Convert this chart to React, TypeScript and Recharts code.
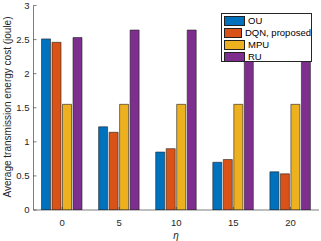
import React from 'react';
import { BarChart, Bar, XAxis, YAxis } from 'recharts';

// eta values on the x axis
const etaValues = [0, 5, 10, 15, 20];

// average transmission energy cost (joule) per scheme
const ouCost = [2.51, 1.22, 0.85, 0.7, 0.56];
const dqnCost = [2.46, 1.14, 0.9, 0.74, 0.53];
const mpuCost = [1.55, 1.55, 1.55, 1.55, 1.55];
const ruCost = [2.53, 2.64, 2.64, 2.64, 2.64];

const yTicks = [0, 0.5, 1, 1.5, 2, 2.5, 3];

const seriesNames = ['OU', 'DQN, proposed', 'MPU', 'RU'];
const seriesKeys = ['ou', 'dqn', 'mpu', 'ru'];
const seriesColors = ['#0072BD', '#D95319', '#EDB120', '#7E2F8E'];

const data = etaValues.map((eta, i) => ({
  eta,
  ou: ouCost[i],
  dqn: dqnCost[i],
  mpu: mpuCost[i],
  ru: ruCost[i],
}));

const FONT = '"Liberation Sans", Arial, sans-serif';
const INK = '#262626';

// matlab style ticks point inward
const LeftTick = (props: any) => {
  const { x, y, payload } = props;
  return (
    <g>
      <line x1={x} y1={y} x2={x + 3} y2={y} stroke={INK} strokeWidth={0.6} />
      <text x={x - 4} y={y} dy="0.35em" textAnchor="end" fontSize={9.5} fill={INK} fontFamily={FONT}>
        {payload.value}
      </text>
    </g>
  );
};

const RightTick = (props: any) => {
  const { x, y } = props;
  return <line x1={x} y1={y} x2={x - 3} y2={y} stroke={INK} strokeWidth={0.6} />;
};

const BottomTick = (props: any) => {
  const { x, y, payload } = props;
  return (
    <g>
      <line x1={x} y1={y} x2={x} y2={y - 3} stroke={INK} strokeWidth={0.6} />
      <text x={x} y={y + 15.5} textAnchor="middle" fontSize={9.5} fill={INK} fontFamily={FONT}>
        {payload.value}
      </text>
    </g>
  );
};

const TopTick = (props: any) => {
  const { x, y } = props;
  return <line x1={x} y1={y} x2={x} y2={y + 3} stroke={INK} strokeWidth={0.6} />;
};

const LegendBox = () => (
  <div
    style={{
      position: 'absolute',
      left: 221,
      top: 12.5,
      width: 89,
      height: 46,
      border: `1px solid ${INK}`,
      background: '#fff',
      fontFamily: FONT,
      fontSize: 9.5,
      color: '#000',
      paddingTop: 1,
      boxSizing: 'content-box',
    }}
  >
    {seriesNames.map((name, i) => (
      <div key={name} style={{ display: 'flex', alignItems: 'center', height: 12, marginLeft: 2 }}>
        <div
          style={{
            width: 19,
            height: 8,
            background: seriesColors[i],
            border: '0.6px solid #222',
            marginRight: 3,
          }}
        />
        <span style={{ lineHeight: '12px', whiteSpace: 'nowrap' }}>{name}</span>
      </div>
    ))}
  </div>
);

export default function App() {
  return (
    <div style={{ position: 'absolute', left: 0, top: 0, width: 321, height: 241, background: '#fff' }}>
      <BarChart
        width={321}
        height={241}
        data={data}
        margin={{ top: 5.5, right: 2, bottom: 0, left: 0 }}
        barCategoryGap={8}
        barGap={1.5}
      >
        <XAxis
          dataKey="eta"
          height={31}
          tickLine={false}
          tickSize={0}
          tickMargin={0}
          tick={<BottomTick />}
          axisLine={{ stroke: INK, strokeWidth: 0.6 }}
          interval={0}
        />
        <XAxis
          xAxisId="top"
          dataKey="eta"
          orientation="top"
          height={0}
          tickLine={false}
          tickSize={0}
          tickMargin={0}
          tick={<TopTick />}
          axisLine={{ stroke: INK, strokeWidth: 0.6 }}
          interval={0}
        />
        <YAxis
          width={33.5}
          domain={[0, 3]}
          ticks={yTicks}
          interval={0}
          tickLine={false}
          tickSize={0}
          tickMargin={0}
          tick={<LeftTick />}
          axisLine={{ stroke: INK, strokeWidth: 0.6 }}
          allowDataOverflow
        />
        <YAxis
          yAxisId="r"
          orientation="right"
          width={0}
          domain={[0, 3]}
          ticks={yTicks}
          interval={0}
          tickLine={false}
          tickSize={0}
          tickMargin={0}
          tick={<RightTick />}
          axisLine={{ stroke: INK, strokeWidth: 0.6 }}
          allowDataOverflow
        />
        {seriesKeys.map((k, i) => (
          <Bar
            key={k}
            dataKey={k}
            name={seriesNames[i]}
            fill={seriesColors[i]}
            stroke="#222"
            strokeWidth={0.6}
            isAnimationActive={false}
          />
        ))}
      </BarChart>
      <LegendBox />
      <div
        style={{
          position: 'absolute',
          left: 7,
          top: 106.5,
          transform: 'translate(-50%, -50%) rotate(-90deg)',
          whiteSpace: 'nowrap',
          fontFamily: FONT,
          fontSize: 10,
          color: INK,
        }}
      >
        Average transmission energy cost (joule)
      </div>
      <div
        style={{
          position: 'absolute',
          left: 176,
          top: 235,
          transform: 'translate(-50%, -50%)',
          fontFamily: FONT,
          fontSize: 10,
          fontStyle: 'italic',
          color: INK,
        }}
      >
        η
      </div>
    </div>
  );
}
